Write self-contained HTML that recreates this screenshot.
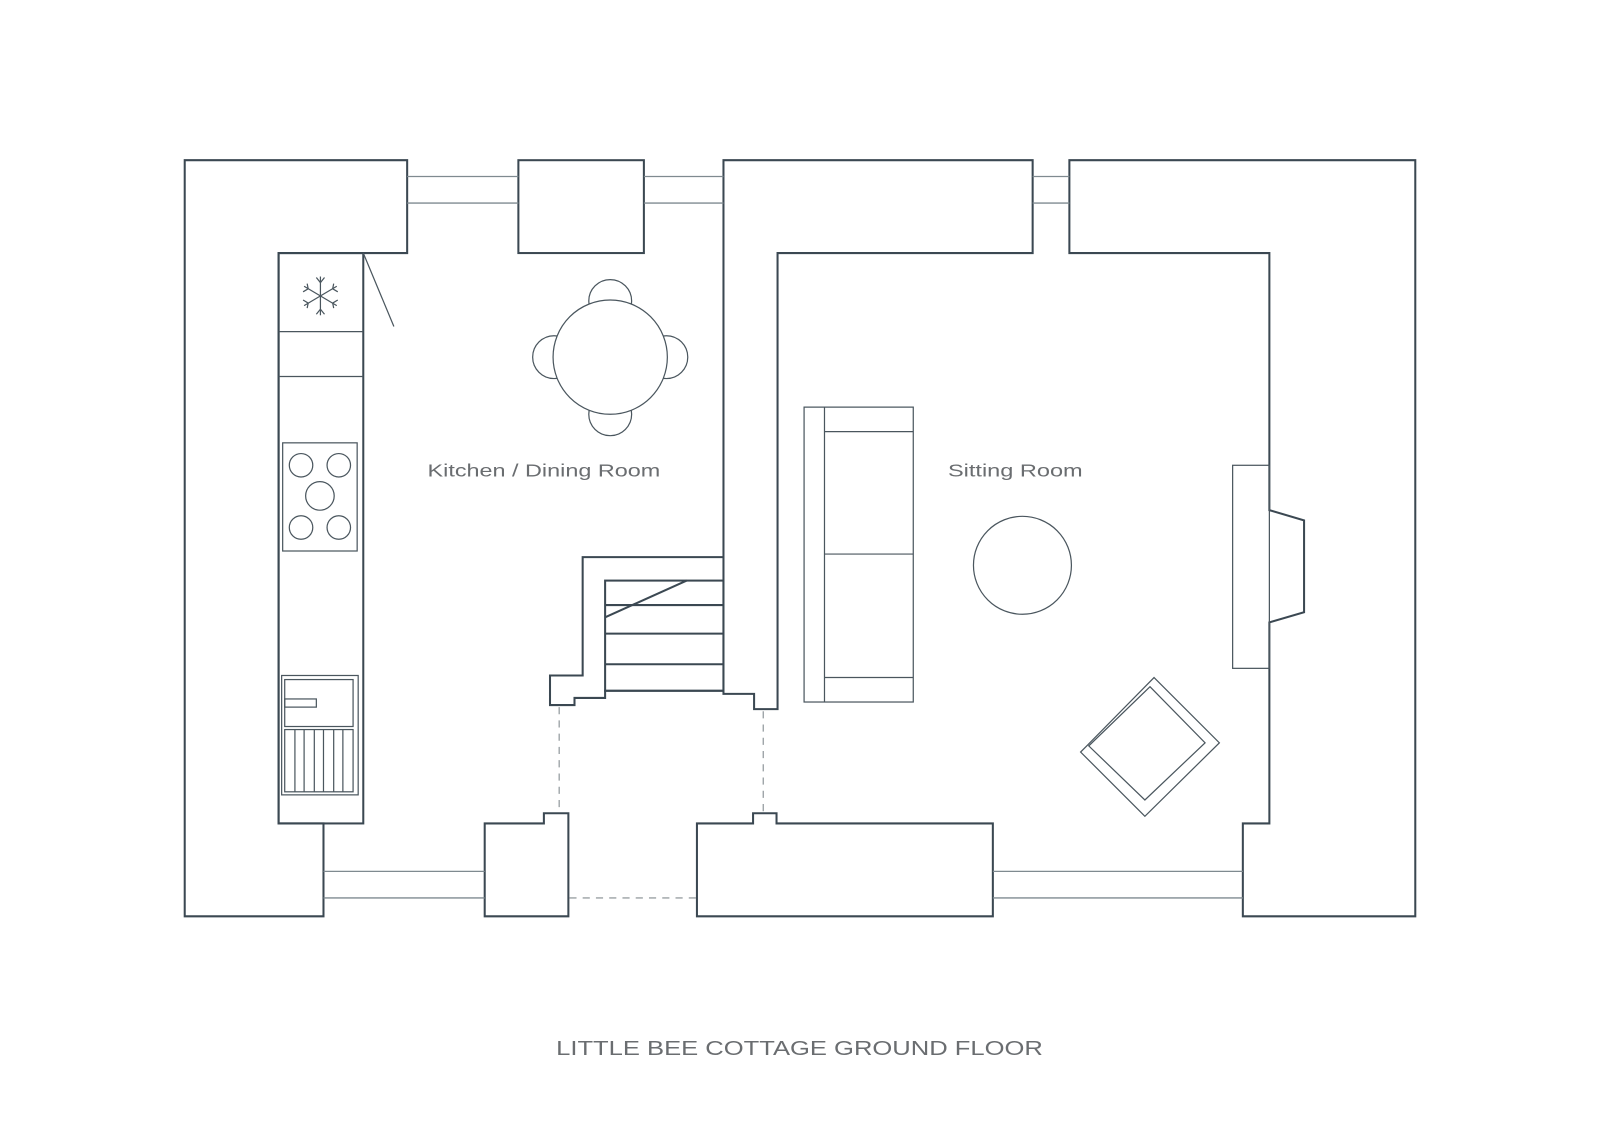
<!DOCTYPE html>
<html><head><meta charset="utf-8"><style>
html,body{margin:0;padding:0;background:#fff;}
svg{display:block;}
text{font-family:"Liberation Sans",sans-serif;fill:#6a6d70;}
</style></head><body>
<svg width="1600" height="1132" viewBox="0 0 1568 1109.4" xmlns="http://www.w3.org/2000/svg">
<g fill="none" stroke="#3b4852" stroke-width="2" stroke-linejoin="miter">
<polygon points="181,157 399,157 399,248 273,248 273,807 317,807 317,898 181,898"/>
<rect x="508" y="157" width="123" height="91"/>
<polygon points="709,157 1012,157 1012,248 762,248 762,695 739,695 739,680 709,680 709,569 709,546 571,546 571,662 539,662 539,691 563,691 563,684 593,684 593,677 709,677"/>
<rect x="593" y="569" width="116" height="108"/>
<line x1="593" y1="593" x2="709" y2="593"/>
<line x1="593" y1="621" x2="709" y2="621"/>
<line x1="593" y1="651" x2="709" y2="651"/>
<line x1="593" y1="605" x2="673" y2="569"/>
<polygon points="1048,157 1387,157 1387,898 1218,898 1218,807 1244,807 1244,610 1278,600 1278,510 1244,500 1244,248 1048,248"/>
<polygon points="475,807 533,807 533,797 557,797 557,898 475,898"/>
<polygon points="683,807 738,807 738,797 761,797 761,807 973,807 973,898 683,898"/>
<rect x="273" y="248" width="83" height="559"/>
</g>
<g fill="none" stroke="#7f8a90" stroke-width="1.3">
<line x1="399" y1="173" x2="508" y2="173"/><line x1="399" y1="199" x2="508" y2="199"/>
<line x1="631" y1="173" x2="709" y2="173"/><line x1="631" y1="199" x2="709" y2="199"/>
<line x1="1012" y1="173" x2="1048" y2="173"/><line x1="1012" y1="199" x2="1048" y2="199"/>
<line x1="317" y1="854" x2="475" y2="854"/><line x1="317" y1="880" x2="475" y2="880"/>
<line x1="973" y1="854" x2="1218" y2="854"/><line x1="973" y1="880" x2="1218" y2="880"/>
</g>
<g fill="none" stroke="#9aa0a4" stroke-width="1.3" stroke-dasharray="7,6">
<line x1="548" y1="693" x2="548" y2="797"/>
<line x1="748" y1="697" x2="748" y2="797"/>
<line x1="558" y1="880" x2="683" y2="880"/>
</g>
<g fill="none" stroke="#4a565e" stroke-width="1.2">
<line x1="273" y1="325" x2="356" y2="325"/>
<line x1="273" y1="369" x2="356" y2="369"/>
<line x1="356" y1="248" x2="386" y2="320"/>
<g transform="translate(314,290)">
<line x1="0" y1="-19" x2="0" y2="19"/>
<line x1="-16" y1="-9.5" x2="16" y2="9.5"/>
<line x1="-16" y1="9.5" x2="16" y2="-9.5"/>
<path d="M-4,-18 L0,-13 L4,-18 M-4,18 L0,13 L4,18"/>
<path d="M-17,-4 L-12,-7 L-13,-12 M17,4 L12,7 L13,12 M-17,4 L-12,7 L-13,12 M17,-4 L12,-7 L13,-12"/>
</g>
<rect x="277" y="434" width="73" height="106"/>
<circle cx="295" cy="456" r="11.5"/><circle cx="332" cy="456" r="11.5"/>
<circle cx="313.5" cy="486" r="14"/>
<circle cx="295" cy="517" r="11.5"/><circle cx="332" cy="517" r="11.5"/>
<rect x="276" y="662" width="75" height="117"/>
<rect x="279" y="666" width="67" height="46"/>
<rect x="279" y="685" width="31" height="8"/>
<rect x="279" y="715" width="67" height="61"/>
<line x1="289" y1="715" x2="289" y2="776"/><line x1="298" y1="715" x2="298" y2="776"/>
<line x1="308" y1="715" x2="308" y2="776"/><line x1="317" y1="715" x2="317" y2="776"/>
<line x1="327" y1="715" x2="327" y2="776"/><line x1="336" y1="715" x2="336" y2="776"/>
<circle cx="598" cy="295" r="21"/><circle cx="598" cy="406" r="21"/>
<circle cx="543" cy="350" r="21"/><circle cx="653" cy="350" r="21"/>
<circle cx="598" cy="350" r="56" fill="#fff"/>
<rect x="788" y="399" width="107" height="289"/>
<line x1="808" y1="399" x2="808" y2="688"/>
<line x1="808" y1="423" x2="895" y2="423"/>
<line x1="808" y1="543" x2="895" y2="543"/>
<line x1="808" y1="664" x2="895" y2="664"/>
<circle cx="1002" cy="554" r="48"/>
<rect x="1208" y="456" width="36" height="199"/>
<polygon points="1131,664 1195,728 1122,800 1059,737 1065,731"/>
<polygon points="1127,673 1181,728 1122,784 1067,731"/>
</g>
<text x="533" y="467" text-anchor="middle" font-size="17" textLength="228" lengthAdjust="spacingAndGlyphs">Kitchen / Dining Room</text>
<text x="995" y="467" text-anchor="middle" font-size="17" textLength="132" lengthAdjust="spacingAndGlyphs">Sitting Room</text>
<text x="783.5" y="1034" text-anchor="middle" font-size="20" textLength="477" lengthAdjust="spacingAndGlyphs">LITTLE BEE COTTAGE GROUND FLOOR</text>
</svg>
</body></html>
